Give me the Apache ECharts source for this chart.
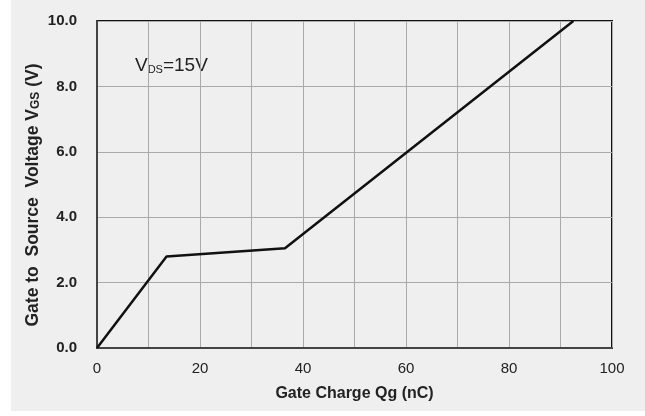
<!DOCTYPE html>
<html>
<head>
<meta charset="utf-8">
<script src="https://cdn.jsdelivr.net/npm/echarts@6/dist/echarts.min.js"></script>
<style>
  html, body { margin: 0; padding: 0; background: #fff; }
  .bg { position: absolute; left: 11px; top: 0; width: 634px; height: 411px; background: #efefef; }
  #main { position: absolute; left: 0; top: 0; width: 645px; height: 416px; }
</style>
</head>
<body>
<div class="bg"></div>
<div id="main"></div>
<script>
  // gate charge curve, Qg (nC) vs Vgs (V)
  var qg = [0, 13.5, 36.5, 92.5];
  var vgs = [0, 2.8, 3.05, 10];
  var xTicks = [0, 20, 40, 60, 80, 100];
  var yTicks = [0, 2, 4, 6, 8, 10];

  var font = '"Liberation Sans", Arial, sans-serif';
  var chart = echarts.init(document.getElementById('main'));

  var points = qg.map(function (q, i) { return [q, vgs[i]]; });

  var option = {
    backgroundColor: 'transparent',
    animation: false,
    grid: {
      left: 97, right: 33, top: 21, bottom: 68,
      show: true, borderColor: '#111', borderWidth: 2,
      backgroundColor: 'transparent'
    },
    xAxis: {
      type: 'value', min: 0, max: 100, interval: 10,
      name: 'Gate Charge Qg (nC)',
      nameLocation: 'middle', nameGap: 38,
      nameTextStyle: { fontFamily: font, fontSize: 16, fontWeight: 'bold', color: '#222' },
      axisLine: { lineStyle: { color: '#444', width: 2 } },
      axisTick: { show: false },
      axisLabel: {
        margin: 13, fontFamily: font, fontSize: 15, color: '#222',
        formatter: function (v) { return xTicks.indexOf(v) >= 0 ? String(v) : ''; }
      },
      splitLine: { lineStyle: { color: '#aaa', width: 1 } }
    },
    yAxis: {
      type: 'value', min: 0, max: 10, interval: 2,
      axisLine: { lineStyle: { color: '#444', width: 2 } },
      axisTick: { show: false },
      axisLabel: {
        margin: 20, fontFamily: font, fontSize: 15, fontWeight: 'bold', color: '#222',
        formatter: function (v) { return yTicks.indexOf(v) >= 0 ? v.toFixed(1) : ''; }
      },
      splitLine: { lineStyle: { color: '#aaa', width: 1 } }
    },
    graphic: [{
      type: 'text', left: 135, top: 56,
      style: {
        text: 'V{sub|DS}=15V',
        font: '19px ' + font, fill: '#222',
        rich: { sub: { fontSize: 11, fontFamily: font, fill: '#222', padding: [8, 0, 0, 0] } }
      }
    }, {
      // y axis title, rotated
      type: 'text', x: 33, y: 195, rotation: Math.PI / 2,
      style: {
        text: 'Gate to  Source  Voltage V{sub|GS} (V)',
        font: 'bold 17.5px ' + font, fill: '#222',
        align: 'center', verticalAlign: 'middle',
        rich: { sub: { fontSize: 12, fontWeight: 'bold', fontFamily: font, fill: '#222', padding: [5, 0, 0, 0] } }
      }
    }],
    series: [{
      type: 'line',
      data: points,
      showSymbol: false,
      lineStyle: { color: '#111', width: 2.5 }
    }]
  };

  chart.setOption(option);
</script>
</body>
</html>
